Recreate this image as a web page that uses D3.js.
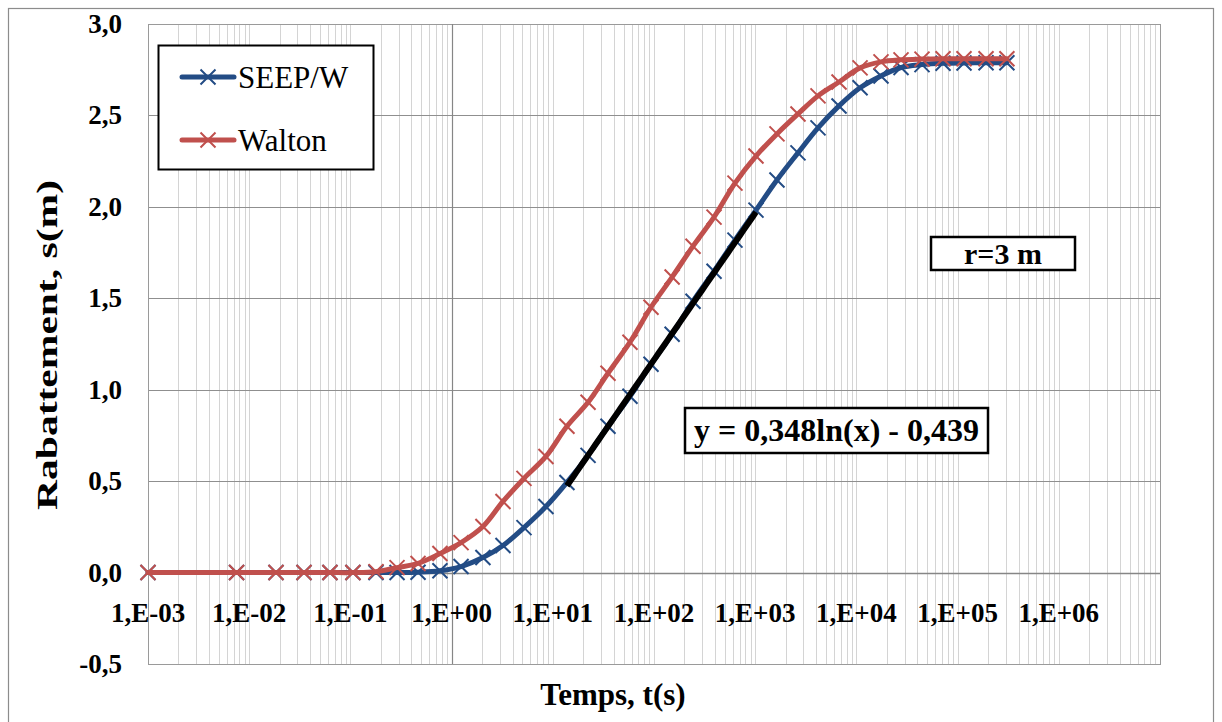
<!DOCTYPE html>
<html>
<head>
<meta charset="utf-8">
<script src="https://cdn.jsdelivr.net/npm/d3@7"></script>
<style>
  html, body { margin: 0; padding: 0; background: #fff; }
  svg { display: block; }
</style>
</head>
<body>
<svg id="chart" width="1222" height="722"></svg>
<script>
// Time steps (s) shared by both series
const temps = [0.001, 0.0075, 0.0184, 0.0348, 0.0628, 0.106, 0.179, 0.289, 0.466, 0.767,
  1.24, 2.04, 3.22, 5.19, 8.56, 13.8, 22.3, 35.1, 57.9, 93.4,
  151, 243, 392, 631, 1018, 1641, 2647, 4175, 6737, 10870,
  17500, 27600, 44500, 71800, 115700, 191000, 307000];

// Drawdown s (m), SEEP/W model
const seepw = [0, 0, 0, 0, 0, 0, 0, 0, 0.002, 0.01,
  0.033, 0.082, 0.148, 0.246, 0.361, 0.493, 0.641, 0.80, 0.964, 1.139,
  1.303, 1.484, 1.648, 1.818, 1.982, 2.147, 2.295, 2.432, 2.552, 2.651,
  2.716, 2.762, 2.778, 2.785, 2.787, 2.788, 2.788];

// Drawdown s (m), Walton solution
const walton = [0, 0, 0, 0, 0, 0, 0.005, 0.027, 0.05, 0.104,
  0.164, 0.252, 0.389, 0.515, 0.635, 0.80, 0.931, 1.09, 1.26, 1.451,
  1.616, 1.785, 1.944, 2.13, 2.278, 2.399, 2.508, 2.607, 2.683, 2.76,
  2.793, 2.804, 2.808, 2.81, 2.81, 2.81, 2.81];

// Logarithmic fit over the straight part of SEEP/W: y = a ln(x) + b
const fitA = 0.348, fitB = -0.439;
const fitRange = [13.8, 1018];

const xTicks = [1e-3, 1e-2, 1e-1, 1e0, 1e1, 1e2, 1e3, 1e4, 1e5, 1e6];
const xTickLabels = ["1,E-03", "1,E-02", "1,E-01", "1,E+00", "1,E+01", "1,E+02", "1,E+03", "1,E+04", "1,E+05", "1,E+06"];
const yTicks = [-0.5, 0, 0.5, 1.0, 1.5, 2.0, 2.5, 3.0];
const yTickLabels = ["-0,5", "0,0", "0,5", "1,0", "1,5", "2,0", "2,5", "3,0"];

const seriesNames = ["SEEP/W", "Walton"];
const seriesColors = ["#234c85", "#c0504d"];

const FONT = '"Liberation Serif", "Times New Roman", serif';
const svg = d3.select("#chart").style("font-family", FONT);
const plot = { left: 148, right: 1160, top: 24, bottom: 664 };

const x = d3.scaleLog().domain([1e-3, 1e7]).range([plot.left, plot.right]);
const y = d3.scaleLinear().domain([-0.5, 3.0]).range([plot.bottom, plot.top]);

// Chart frame
svg.append("rect")
  .attr("x", 8.5).attr("y", 8.5).attr("width", 1205).attr("height", 725)
  .attr("fill", "#fff").attr("stroke", "#8c8c8c").attr("stroke-width", 1.2);

// Minor vertical gridlines (every k·10^n)
const minor = [];
for (let e = -3; e < 7; e++) for (let k = 1; k <= 9; k++) minor.push(k * Math.pow(10, e));
minor.push(1e7);
svg.append("g").selectAll("line").data(minor).join("line")
  .attr("x1", d => Math.round(x(d)) + 0.5).attr("x2", d => Math.round(x(d)) + 0.5)
  .attr("y1", plot.top).attr("y2", plot.bottom)
  .attr("stroke", "#d4d4d4").attr("stroke-width", 1);

// Horizontal major gridlines
svg.append("g").selectAll("line").data(yTicks).join("line")
  .attr("x1", plot.left).attr("x2", plot.right)
  .attr("y1", d => Math.round(y(d)) + 0.5).attr("y2", d => Math.round(y(d)) + 0.5)
  .attr("stroke", "#8f8f8f").attr("stroke-width", 1.2);

// Plot area border
svg.append("rect")
  .attr("x", plot.left + 0.5).attr("y", plot.top + 0.5)
  .attr("width", plot.right - plot.left).attr("height", plot.bottom - plot.top)
  .attr("fill", "none").attr("stroke", "#9a9a9a").attr("stroke-width", 1);

// Axis lines crossing at t = 1 s and s = 0
svg.append("line")
  .attr("x1", Math.round(x(1)) + 0.5).attr("x2", Math.round(x(1)) + 0.5)
  .attr("y1", plot.top).attr("y2", plot.bottom)
  .attr("stroke", "#868686").attr("stroke-width", 1.2);
svg.append("line")
  .attr("x1", plot.left).attr("x2", plot.right)
  .attr("y1", Math.round(y(0)) + 0.5).attr("y2", Math.round(y(0)) + 0.5)
  .attr("stroke", "#868686").attr("stroke-width", 1.5);

// Tick labels
svg.append("g").selectAll("text").data(xTicks).join("text")
  .attr("x", d => x(d)).attr("y", 622)
  .attr("text-anchor", "middle")
  .style("font-family", FONT).style("font-size", "27px").style("font-weight", "bold")
  .text((d, i) => xTickLabels[i]);

svg.append("g").selectAll("text").data(yTicks).join("text")
  .attr("x", 122).attr("y", d => y(d) + 9)
  .attr("text-anchor", "end")
  .style("font-family", FONT).style("font-size", "27px").style("font-weight", "bold")
  .text((d, i) => yTickLabels[i]);

// Axis titles
svg.append("text")
  .attr("x", 613).attr("y", 705)
  .attr("text-anchor", "middle")
  .style("font-family", FONT).style("font-size", "31px").style("font-weight", "bold")
  .text("Temps, t(s)");
svg.append("text")
  .attr("transform", "translate(57,345) rotate(-90)")
  .attr("text-anchor", "middle")
  .attr("textLength", 330).attr("lengthAdjust", "spacingAndGlyphs")
  .style("font-family", FONT).style("font-size", "30px").style("font-weight", "bold")
  .text("Rabattement, s(m)");

// Series
const line = d3.line().x(d => x(d[0])).y(d => y(d[1])).curve(d3.curveCatmullRom.alpha(0.5));
const allSeries = [seepw, walton];
const mk = 7.5;
allSeries.forEach((vals, si) => {
  const pts = temps.map((t, i) => [t, vals[i]]);
  const g = svg.append("g");
  g.append("path").datum(pts)
    .attr("d", line)
    .attr("fill", "none").attr("stroke", seriesColors[si])
    .attr("stroke-width", 5).attr("stroke-linejoin", "round").attr("stroke-linecap", "round");
  g.selectAll("path.m").data(pts).join("path").attr("class", "m")
    .attr("d", d => {
      const cx = x(d[0]), cy = y(d[1]);
      return `M${cx - mk},${cy - mk}L${cx + mk},${cy + mk}M${cx - mk},${cy + mk}L${cx + mk},${cy - mk}`;
    })
    .attr("stroke", seriesColors[si]).attr("stroke-width", 2).attr("fill", "none");
});

// Logarithmic trendline
const fitPts = d3.range(0, 61).map(i => {
  const lt = Math.log10(fitRange[0]) + i / 60 * (Math.log10(fitRange[1]) - Math.log10(fitRange[0]));
  const t = Math.pow(10, lt);
  return [t, fitA * Math.log(t) + fitB];
});
svg.append("path").datum(fitPts)
  .attr("d", d3.line().x(d => x(d[0])).y(d => y(d[1])))
  .attr("fill", "none").attr("stroke", "#000").attr("stroke-width", 6)
  .attr("stroke-linecap", "butt");

// Legend
const lg = svg.append("g");
lg.append("rect").attr("x", 158.5).attr("y", 45.5).attr("width", 215).attr("height", 124)
  .attr("fill", "#fff").attr("stroke", "#000").attr("stroke-width", 2);
seriesNames.forEach((name, i) => {
  const ly = 77 + i * 63;
  lg.append("line").attr("x1", 182).attr("x2", 234).attr("y1", ly).attr("y2", ly)
    .attr("stroke", seriesColors[i]).attr("stroke-width", 5).attr("stroke-linecap", "round");
  lg.append("path")
    .attr("d", `M${208 - mk},${ly - mk}L${208 + mk},${ly + mk}M${208 - mk},${ly + mk}L${208 + mk},${ly - mk}`)
    .attr("stroke", seriesColors[i]).attr("stroke-width", 2);
  lg.append("text").attr("x", 238).attr("y", ly + 11)
    .style("font-family", FONT).style("font-size", "31px").text(name);
});

// Annotation boxes
function labelBox(cx, cy, w, h, size, txt) {
  const g = svg.append("g");
  g.append("rect").attr("x", cx - w / 2).attr("y", cy - h / 2).attr("width", w).attr("height", h)
    .attr("fill", "#fff").attr("stroke", "#000").attr("stroke-width", 2.5);
  g.append("text").attr("x", cx).attr("y", cy + size * 0.34)
    .attr("text-anchor", "middle")
    .style("font-family", FONT).style("font-size", size + "px").style("font-weight", "bold").text(txt);
}
labelBox(1003, 253.5, 144, 33, 30, "r=3 m");
labelBox(836.5, 430.5, 303, 45, 32, `y = ${String(fitA).replace(".", ",")}ln(x) - ${String(-fitB).replace(".", ",")}`);
</script>
</body>
</html>
